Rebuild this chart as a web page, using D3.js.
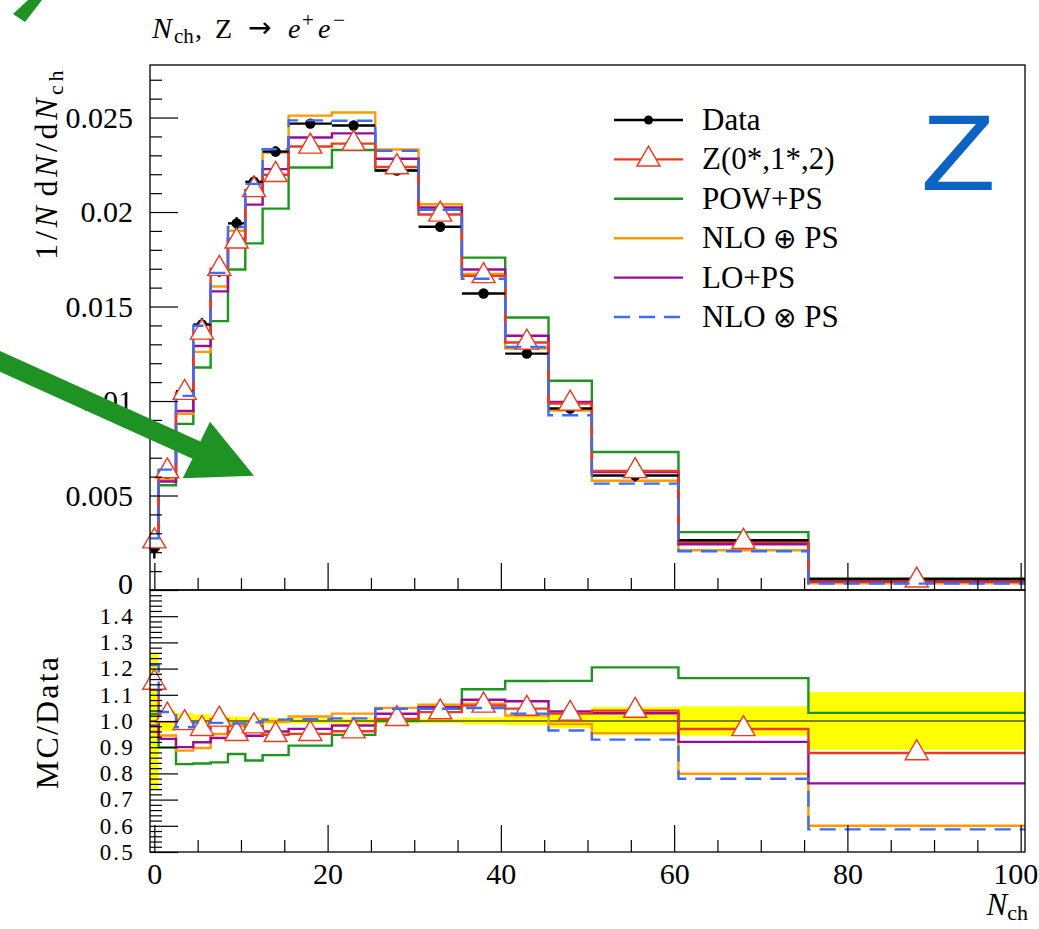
<!DOCTYPE html>
<html>
<head>
<meta charset="utf-8">
<script src="https://cdn.jsdelivr.net/npm/d3@7"></script>
<style>
  body { margin: 0; background: #fff; }
  svg text { font-family: "Liberation Serif", "DejaVu Serif", serif; fill: #000; }
</style>
</head>
<body>
<svg id="chart" width="1039" height="929"></svg>
<script>
// Charged-particle multiplicity in Z -> e+e- events
const binEdges = [-0.5, 0.5, 2.5, 4.5, 6.5, 8.5, 10.5, 12.5, 15.5, 20.5, 25.5, 30.5, 35.5, 40.5, 45.5, 50.5, 60.5, 75.5, 100.5];

const dataValues = [0.00225, 0.00616, 0.01052, 0.01405, 0.0169, 0.0194, 0.0216, 0.0232, 0.02468, 0.02458, 0.0222, 0.01922, 0.01569, 0.01251, 0.0096, 0.00606, 0.00263, 0.00058];
const dataRelErr = [0.26, 0.038, 0.03, 0.025, 0.02, 0.017, 0.015, 0.012, 0.01, 0.01, 0.008, 0.008, 0.013, 0.016, 0.027, 0.053, 0.056, 0.11];

const zValues        = [0.00258, 0.00629, 0.01044, 0.01363, 0.0170, 0.01845, 0.02117, 0.02197, 0.02347, 0.02362, 0.02238, 0.01987, 0.01662, 0.0131, 0.00987, 0.0063, 0.00255, 0.000509];
const powValues      = [0.00231, 0.00554, 0.00879, 0.01177, 0.01423, 0.01696, 0.01834, 0.02018, 0.02236, 0.02328, 0.0222, 0.02012, 0.01759, 0.01442, 0.01107, 0.0073, 0.00306, 0.000598];
const nloPlusValues  = [0.00216, 0.00582, 0.00933, 0.0126, 0.01606, 0.01901, 0.02108, 0.02315, 0.0251, 0.02527, 0.02331, 0.02041, 0.01673, 0.01277, 0.00949, 0.00578, 0.0021, 0.000348];
const loValues       = [0.00221, 0.00574, 0.00947, 0.01291, 0.0158, 0.01857, 0.02039, 0.02227, 0.02394, 0.02416, 0.02282, 0.02024, 0.01696, 0.01345, 0.00995, 0.00624, 0.00242, 0.000442];
const nloTimesValues = [0.00273, 0.00637, 0.01027, 0.01398, 0.01678, 0.01921, 0.02149, 0.02332, 0.02485, 0.02483, 0.02324, 0.02012, 0.01647, 0.01286, 0.00925, 0.00563, 0.00205, 0.00034];

const mainYTicks = [0, 0.005, 0.01, 0.015, 0.02, 0.025];
const mainYTickLabels = ["0", "0.005", "0.01", "0.015", "0.02", "0.025"];
const ratioYTicks = [0.5, 0.6, 0.7, 0.8, 0.9, 1.0, 1.1, 1.2, 1.3, 1.4];
const xTicks = [0, 20, 40, 60, 80, 100];

const COL = {
  data: "#000000",
  z: "#ec3a20",
  pow: "#1c961c",
  nloPlus: "#ff9a00",
  lo: "#990c99",
  nloTimes: "#3d6df2",
  band: "#ffff00",
  arrow: "#1e9223",
  zMark: "#0b63c4"
};

const lineSeries = [
  { key: "pow",      values: powValues,      color: COL.pow,      dash: null },
  { key: "nloPlus",  values: nloPlusValues,  color: COL.nloPlus,  dash: null },
  { key: "lo",       values: loValues,       color: COL.lo,       dash: null },
  { key: "z",        values: zValues,        color: COL.z,        dash: null }
];
const dashedSeries = { key: "nloTimes", values: nloTimesValues, color: COL.nloTimes, dash: "16 9" };

const svg = d3.select("#chart");

// panel geometry
const L = 150, R = 1025, mainTop = 65, mainBot = 590, ratioBot = 852;

const x = d3.scaleLinear().domain([-0.5, 100.5]).range([L, R]);
const yMain = d3.scaleLinear().domain([0, 0.02778]).range([mainBot, mainTop]);
const yRatio = d3.scaleLinear().domain([0.5, 1.5]).range([ratioBot, mainBot]);

const nb = dataValues.length;
const centers = d3.range(nb).map(i => (binEdges[i] + binEdges[i + 1]) / 2);

function stepPoints(vals) {
  const pts = vals.map((v, i) => [binEdges[i], v]);
  pts.push([binEdges[nb], vals[nb - 1]]);
  return pts;
}
function stepLine(yScale) {
  return d3.line().x(d => x(d[0])).y(d => yScale(d[1])).curve(d3.curveStepAfter);
}

const triangle = d3.symbol().type(d3.symbolTriangle).size(231);

// ---------- ratio panel ----------
const gR = svg.append("g");

// data uncertainty band
gR.selectAll("rect.band").data(d3.range(nb)).join("rect")
  .attr("x", i => x(binEdges[i]))
  .attr("width", i => x(binEdges[i + 1]) - x(binEdges[i]))
  .attr("y", i => yRatio(1 + dataRelErr[i]))
  .attr("height", i => yRatio(1 - dataRelErr[i]) - yRatio(1 + dataRelErr[i]))
  .attr("fill", COL.band);

gR.append("line")
  .attr("x1", L).attr("x2", R)
  .attr("y1", yRatio(1)).attr("y2", yRatio(1))
  .attr("stroke", "#000").attr("stroke-width", 1);

const ratioOf = vals => vals.map((v, i) => v / dataValues[i]);

lineSeries.forEach(s => {
  gR.append("path")
    .attr("d", stepLine(yRatio)(stepPoints(ratioOf(s.values))))
    .attr("fill", "none").attr("stroke", s.color).attr("stroke-width", 2.4);
});
gR.selectAll("path.zr").data(ratioOf(zValues)).join("path")
  .attr("class", "zr")
  .attr("d", triangle)
  .attr("transform", (r, i) => `translate(${x(centers[i])},${yRatio(r)})`)
  .attr("fill", "#fff").attr("stroke", COL.z).attr("stroke-width", 1.4);
gR.append("path")
  .attr("d", stepLine(yRatio)(stepPoints(ratioOf(dashedSeries.values))))
  .attr("fill", "none").attr("stroke", dashedSeries.color).attr("stroke-width", 2.4)
  .attr("stroke-dasharray", dashedSeries.dash);

// ---------- main panel ----------
const gM = svg.append("g");

lineSeries.forEach(s => {
  gM.append("path")
    .attr("d", stepLine(yMain)(stepPoints(s.values)))
    .attr("fill", "none").attr("stroke", s.color).attr("stroke-width", 2.4);
});

// data: horizontal bin bars, vertical errors, dots
const gD = gM.append("g");
gD.selectAll("line.xe").data(dataValues).join("line")
  .attr("x1", (v, i) => x(binEdges[i])).attr("x2", (v, i) => x(binEdges[i + 1]))
  .attr("y1", v => yMain(v)).attr("y2", v => yMain(v))
  .attr("stroke", COL.data).attr("stroke-width", 2.4);
gD.selectAll("line.ye").data(dataValues).join("line")
  .attr("x1", (v, i) => x(centers[i])).attr("x2", (v, i) => x(centers[i]))
  .attr("y1", (v, i) => yMain(v * (1 + dataRelErr[i]))).attr("y2", (v, i) => yMain(v * (1 - dataRelErr[i])))
  .attr("stroke", COL.data).attr("stroke-width", 2.4);
gD.selectAll("circle").data(dataValues).join("circle")
  .attr("cx", (v, i) => x(centers[i])).attr("cy", v => yMain(v))
  .attr("r", 5.2).attr("fill", COL.data);

gM.selectAll("path.zm").data(zValues).join("path")
  .attr("class", "zm")
  .attr("d", triangle)
  .attr("transform", (v, i) => `translate(${x(centers[i])},${yMain(v)})`)
  .attr("fill", "#fff").attr("stroke", COL.z).attr("stroke-width", 1.4);

gM.append("path")
  .attr("d", stepLine(yMain)(stepPoints(dashedSeries.values)))
  .attr("fill", "none").attr("stroke", dashedSeries.color).attr("stroke-width", 2.4)
  .attr("stroke-dasharray", dashedSeries.dash);

// ---------- frames and axes ----------
svg.append("rect").attr("x", L).attr("y", mainTop).attr("width", R - L).attr("height", mainBot - mainTop)
  .attr("fill", "none").attr("stroke", "#000").attr("stroke-width", 1.3);
svg.append("rect").attr("x", L).attr("y", mainBot).attr("width", R - L).attr("height", ratioBot - mainBot)
  .attr("fill", "none").attr("stroke", "#000").attr("stroke-width", 1.3);

function styleAxis(size) {
  return g => {
    g.select(".domain").remove();
    g.selectAll(".tick line").attr("stroke", "#000").attr("stroke-width", 1.2);
    g.selectAll("text").attr("font-size", size).attr("font-family", '"Liberation Serif", serif').attr("fill", "#000");
  };
}

const minorMainY = d3.range(0, 0.0278, 0.001).filter(v => !mainYTicks.some(t => Math.abs(t - v) < 1e-9));
svg.append("g").attr("transform", `translate(${L},0)`)
  .call(d3.axisLeft(yMain).tickValues(minorMainY).tickSize(-12).tickFormat(""))
  .call(styleAxis(30));
const mainYAxis = svg.append("g").attr("transform", `translate(${L},0)`)
  .call(d3.axisLeft(yMain).tickValues(mainYTicks).tickSize(-28).tickPadding(17)
        .tickFormat((d, i) => mainYTickLabels[i]))
  .call(styleAxis(30));
// the zero label sits on the panel seam; lift it a little
mainYAxis.selectAll(".tick text").filter(d => d === 0).attr("dy", "0.1em");

const minorRatioY = d3.range(0.52, 1.5, 0.02).filter(v => !ratioYTicks.some(t => Math.abs(t - v) < 1e-6));
svg.append("g").attr("transform", `translate(${L},0)`)
  .call(d3.axisLeft(yRatio).tickValues(minorRatioY).tickSize(-12).tickFormat(""))
  .call(styleAxis(23));
svg.append("g").attr("transform", `translate(${L},0)`)
  .call(d3.axisLeft(yRatio).tickValues(ratioYTicks).tickSize(-28).tickPadding(15).tickFormat(d3.format(".1f")))
  .call(styleAxis(23))
  .call(g => g.selectAll(".tick text").attr("letter-spacing", 2.2));

const minorX = d3.range(5, 100, 5).filter(v => v % 20 !== 0);
[mainBot, ratioBot].forEach((yy, k) => {
  svg.append("g").attr("transform", `translate(0,${yy})`)
    .call(d3.axisBottom(x).tickValues(minorX).tickSize(-12).tickFormat(""))
    .call(styleAxis(30));
  const ax = d3.axisBottom(x).tickValues(xTicks).tickSize(-27).tickPadding(11);
  if (k === 0) ax.tickFormat("");
  const g = svg.append("g").attr("transform", `translate(0,${yy})`).call(ax).call(styleAxis(30));
  if (k === 1) {
    // keep the last label inside the page edge
    g.selectAll(".tick text").filter(d => d === 100).attr("text-anchor", "end").attr("x", 17);
  }
});

// ---------- labels ----------
// title
const title = svg.append("text").attr("y", 38).attr("font-size", 28);
title.append("tspan").attr("x", 152).attr("font-style", "italic").attr("font-size", 30).text("N");
title.append("tspan").attr("x", 174).attr("dy", 5).attr("font-size", 21).text("ch");
title.append("tspan").attr("x", 195).attr("dy", -5).text(",");
title.append("tspan").attr("x", 215).text("Z");
title.append("tspan").attr("x", 248).attr("dy", -1).style("font-family", '"DejaVu Sans", sans-serif')
  .attr("font-size", 28).text("\u2192");
title.append("tspan").attr("x", 288).attr("dy", 1).attr("font-style", "italic").text("e");
title.append("tspan").attr("x", 302).attr("dy", -11).attr("font-size", 21).text("+");
title.append("tspan").attr("x", 318).attr("dy", 11).attr("font-style", "italic").text("e");
title.append("tspan").attr("x", 333).attr("dy", -11).attr("font-size", 21).text("\u2212");

// main y label
const yl = svg.append("text").attr("transform", "translate(57,67) rotate(-90)")
  .attr("text-anchor", "end").attr("font-size", 32).attr("letter-spacing", 3.6);
yl.append("tspan").text("1/");
yl.append("tspan").attr("font-style", "italic").text("N");
yl.append("tspan").attr("dx", 6).text("d");
yl.append("tspan").attr("font-style", "italic").text("N");
yl.append("tspan").text("/d");
yl.append("tspan").attr("font-style", "italic").text("N");
yl.append("tspan").attr("dy", 6).attr("font-size", 22).text("ch");

// ratio y label
svg.append("text").attr("transform", "translate(58,722) rotate(-90)")
  .attr("text-anchor", "middle").attr("font-size", 32).attr("letter-spacing", 2.2).text("MC/Data");

// x label
const xl = svg.append("text").attr("x", 1028).attr("y", 915).attr("text-anchor", "end").attr("font-size", 31);
xl.append("tspan").attr("font-style", "italic").text("N");
xl.append("tspan").attr("dy", 5).attr("font-size", 22).text("ch");

// ---------- legend ----------
const legendItems = [
  { label: ["Data"],                 color: COL.data,     marker: "dot" },
  { label: ["Z(0*,1*,2)"],           color: COL.z,        marker: "tri" },
  { label: ["POW+PS"],               color: COL.pow },
  { label: ["NLO ", "\u2295", " PS"], color: COL.nloPlus },
  { label: ["LO+PS"],                color: COL.lo },
  { label: ["NLO ", "\u2297", " PS"], color: COL.nloTimes, dash: "16 9" }
];
const lg = svg.append("g");
legendItems.forEach((it, i) => {
  const yy = 120 + i * 39.4;
  lg.append("line").attr("x1", 614).attr("x2", 683).attr("y1", yy).attr("y2", yy)
    .attr("stroke", it.color).attr("stroke-width", 2.4)
    .attr("stroke-dasharray", it.dash || null);
  if (it.marker === "dot") lg.append("circle").attr("cx", 648.5).attr("cy", yy).attr("r", 4.5).attr("fill", it.color);
  if (it.marker === "tri") lg.append("path").attr("d", triangle).attr("transform", `translate(648.5,${yy})`)
    .attr("fill", "#fff").attr("stroke", it.color).attr("stroke-width", 1.4);
  const t = lg.append("text").attr("x", 702).attr("y", yy + 10).attr("font-size", 31);
  it.label.forEach((part, j) => {
    const sp = t.append("tspan").text(part);
    if (part === "\u2295" || part === "\u2297") {
      sp.style("font-family", '"DejaVu Sans", sans-serif').style("font-weight", 200)
        .attr("font-size", 28);
    }
  });
});

// big "Z" tag
svg.append("text").attr("transform", "translate(921,190) scale(1.14,1)")
  .attr("font-size", 107).style("font-family", '"Liberation Sans", Arial, sans-serif')
  .style("fill", COL.zMark).text("Z");

// ---------- annotation arrows ----------
svg.append("path")
  .attr("d", "M-9.2,346.9 L200.3,441.4 L210,421.7 L254,475.7 L182.7,478.3 L192.5,458.7 L-17,364.2 Z")
  .attr("fill", COL.arrow);
svg.append("path")
  .attr("d", "M28,0 L42,0 L25,22 L13,14 Z")
  .attr("fill", COL.arrow);
</script>
</body>
</html>
